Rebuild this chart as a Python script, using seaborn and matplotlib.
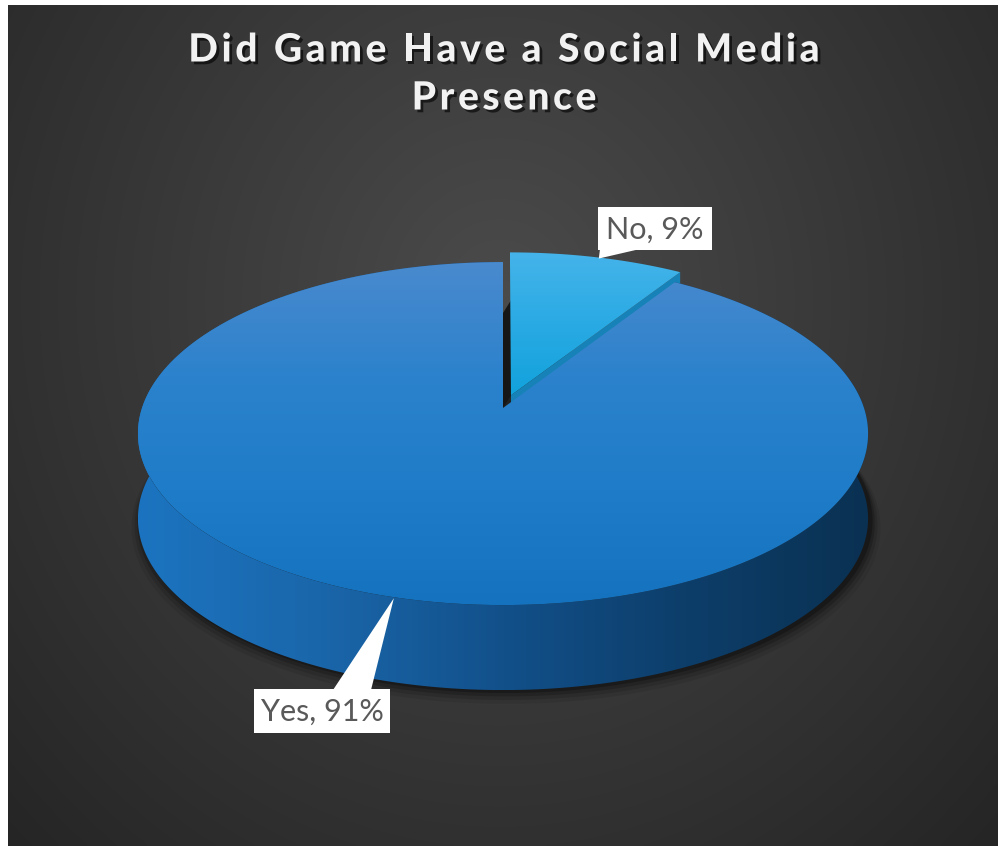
import numpy as np
import matplotlib
matplotlib.use("Agg")
import matplotlib.pyplot as plt
import seaborn as sns
from matplotlib.patches import Polygon, Rectangle
from matplotlib.colors import LinearSegmentedColormap
from matplotlib.font_manager import FontProperties
import matplotlib.patheffects as pe

sns.set_theme(style="white")
plt.rcParams['font.family'] = ['Lato', 'DejaVu Sans']

# ---- data ----
categories = ["Yes", "No"]
values = [91, 9]
title_lines = ["Did Game Have a Social Media", "Presence"]

W, H = 1000, 846
fig = plt.figure(figsize=(W / 100, H / 100), dpi=100)
fig.patch.set_facecolor("white")
ax = fig.add_axes([0, 0, 1, 1])
ax.set_xlim(0, W)
ax.set_ylim(H, 0)
ax.axis("off")

# ---- background radial gradient ----
bx0, by0, bx1, by1 = 8, 5, 998, 846
gx, gy = np.meshgrid(np.linspace(bx0, bx1, 400), np.linspace(by0, by1, 340))
d = np.sqrt(((gx - 500) / 1.0) ** 2 + ((gy - 300) / 1.1) ** 2) / 720
d = np.clip(d, 0, 1)
c_in = np.array([0x4b, 0x4b, 0x4b]) / 255
c_out = np.array([0x24, 0x24, 0x24]) / 255
bg = c_in[None, None, :] * (1 - d[..., None]) + c_out[None, None, :] * d[..., None]
ax.imshow(bg, extent=(bx0, bx1, by1, by0), origin="upper", aspect="auto", zorder=0, interpolation="bilinear")

# ---- pie geometry (perspective projection of a disk) ----
cx, cy = 503, 408
rx, a, k = 361, 167.7, 0.149
depth = 85


def proj(theta, r=1.0, off=(0.0, 0.0), dz=0.0):
    u = r * np.sin(theta) + off[0]
    v = r * np.cos(theta) + off[1]
    s = 1 + k * v
    return np.column_stack([cx + rx * u / s, cy - a * v / s + dz])


def grad_fill(poly_xy, colors, direction="v", z=1):
    poly = Polygon(poly_xy, closed=True, facecolor="none", edgecolor="none", zorder=z)
    ax.add_patch(poly)
    x0, y0 = poly_xy.min(axis=0)
    x1, y1 = poly_xy.max(axis=0)
    cmap = LinearSegmentedColormap.from_list("g", colors)
    n = 256
    if direction == "v":
        arr = np.linspace(0, 1, n)[:, None] * np.ones((1, 4))
    else:
        arr = np.ones((4, 1)) * np.linspace(0, 1, n)[None, :]
    im = ax.imshow(arr, cmap=cmap, extent=(x0, x1, y1, y0), origin="upper",
                   aspect="auto", zorder=z, interpolation="bilinear")
    im.set_clip_path(poly)
    return poly


total = float(sum(values))
fracs = [v / total for v in values]
no_frac = fracs[categories.index("No")]
no_start, no_end = 0.0, 2 * np.pi * no_frac
yes_start, yes_end = no_end, 2 * np.pi
explode = 0.08
mid = (no_start + no_end) / 2
off_no = (explode * np.sin(mid), explode * np.cos(mid))

# soft shadow beneath pie (stacked translucent copies of the bottom outline)
th_full = np.linspace(0, 2 * np.pi, 400)
for e, dy, al in [(1.025, 8, 0.08), (1.017, 6, 0.12), (1.010, 4, 0.18), (1.004, 2, 0.25)]:
    shp = proj(th_full, r=e, dz=depth + dy) + [3, 0]
    ax.add_patch(Polygon(shp, closed=True, facecolor="black", alpha=al, edgecolor="none", zorder=1))

# No slice radial wall at its end edge (faces viewer)
p_apex = proj(0, r=0.0, off=off_no)[0]
p_rim = proj(no_end, off=off_no)[0]
wall = np.array([p_apex, p_rim, p_rim + [0, depth], p_apex + [0, depth]])
ax.add_patch(Polygon(wall, closed=True, facecolor="#1682b8", edgecolor="none", zorder=2))
c0 = proj(0, r=0.0)[0]
gap = np.array([c0 + [0, -95], c0, p_apex, p_apex + [0, -95]])
ax.add_patch(Polygon(gap, closed=True, facecolor="#161616", edgecolor="none", zorder=2))

# Yes side band
th = np.linspace(yes_start, yes_end, 400)
top_rim = proj(th)
bot_rim = proj(th, dz=depth)
band = np.vstack([top_rim, bot_rim[::-1]])
grad_fill(band, ["#1c74c0", "#1a66aa", "#12508a", "#0d3e6a", "#0a3152"], direction="h", z=3)

# Yes top face
yes_face = np.vstack([c0[None, :], top_rim])
grad_fill(yes_face, ["#4a8ace", "#2c82cc", "#1f7cc8", "#1572be"], direction="v", z=4)

# No top face
thn = np.linspace(no_start, no_end, 80)
no_face = np.vstack([p_apex[None, :], proj(thn, off=off_no)])
grad_fill(no_face, ["#45b4ea", "#2aaae4", "#12a2dc"], direction="v", z=5)

# ---- labels with callouts ----
lab_no = f"{categories[1]}, {values[1]}%"
lab_yes = f"{categories[0]}, {values[0]}%"
label_font = ['Lato', 'DejaVu Sans']

# No callout
bx, by, bw, bh = 598, 207, 114, 43
ax.add_patch(Rectangle((bx, by), bw, bh, facecolor="white", edgecolor="none", zorder=6))
tip = proj(np.deg2rad(16.5), off=off_no)[0] + [0, 1]
ax.add_patch(Polygon([[bx + 2, by + bh - 1], [bx + 42, by + bh - 1], tip], closed=True,
                     facecolor="white", edgecolor="none", zorder=6))
ax.text(bx + bw / 2, by + bh / 2 + 1, lab_no, ha="center", va="center", fontsize=22,
        color="#595959", zorder=7, family=label_font)

# Yes callout
bx, by, bw, bh = 254, 689, 136, 44
ax.add_patch(Rectangle((bx, by), bw, bh, facecolor="white", edgecolor="none", zorder=6))
tip2 = proj(np.deg2rad(195))[0] + [0, 1]
ax.add_patch(Polygon([[bx + 79, by + 1], [bx + 117, by + 1], tip2], closed=True,
                     facecolor="white", edgecolor="none", zorder=6))
ax.text(bx + bw / 2, by + bh / 2 + 1, lab_yes, ha="center", va="center", fontsize=22,
        color="#595959", zorder=7, family=label_font)

# ---- title with letter spacing ----
renderer = fig.canvas.get_renderer()
tprop = FontProperties(family=['Lato', 'DejaVu Sans'], weight="black", size=28)
px_per_pt = fig.dpi / 72.0


def text_w(s):
    w, h, dsc = renderer.get_text_width_height_descent(s, tprop, ismath=False)
    return w


tracking = 3.6
shadow = [pe.withSimplePatchShadow(offset=(2, -2), shadow_rgbFace="black", alpha=0.6)]
for line, yc in zip(title_lines, [50, 98]):
    n = len(line)
    total_w = text_w(line) + tracking * (n - 1)
    x_start = W / 2 + 4 - total_w / 2
    for i, ch in enumerate(line):
        if ch == " ":
            continue
        pre = line[:i + 1]
        x_left = x_start + text_w(pre) - text_w(ch) + tracking * i
        ax.text(x_left, yc, ch, ha="left", va="center", fontproperties=tprop,
                color="#f2f2f2", zorder=8, path_effects=shadow)

ax.set_xlim(0, W)
ax.set_ylim(H, 0)
fig.savefig("out.png", dpi=100, facecolor=fig.get_facecolor())
